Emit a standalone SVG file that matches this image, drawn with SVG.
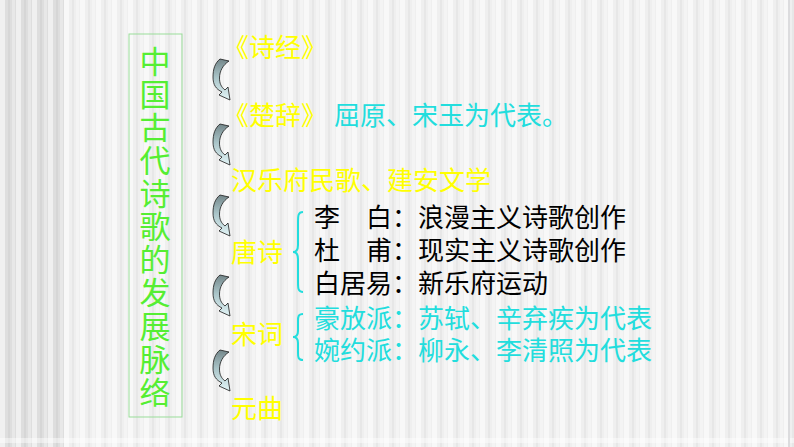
<svg xmlns="http://www.w3.org/2000/svg" width="794" height="447" viewBox="0 0 794 447">
  <defs>
    <pattern id="stripes" x="0" y="0" width="16" height="447" patternUnits="userSpaceOnUse">
      <rect x="0" y="0" width="5" height="447" fill="#ffffff" opacity="0.55"/>
      <rect x="8" y="0" width="2" height="447" fill="#000000" opacity="0.035"/>
      <rect x="12" y="0" width="3" height="447" fill="#ffffff" opacity="0.3"/>
    </pattern>
    <linearGradient id="arrowFill" x1="0" y1="0" x2="0" y2="1">
      <stop offset="0" stop-color="#74878a"/>
      <stop offset="0.45" stop-color="#a9c4c8"/>
      <stop offset="1" stop-color="#e2f4f6"/>
    </linearGradient>
    <path id="curvedArrow" d="M7,0 C2,4 0,10 0,18 C0,26 3,30 9,33 L6,36 L17,41 L15,28 L12,31 C8,28 6.5,24 6.5,19 C6.5,12 10,6 16,2 Z"/>
    <style>
      .cjk { font-family: "Noto Sans CJK SC", "Noto Sans", sans-serif; }
      .cjkh { font-family: "Liberation Sans", "Noto Sans CJK SC", sans-serif; }
      .title { font-size: 31px; fill: #55ee33; writing-mode: vertical-rl; letter-spacing: 2.1px; }
      .stage { font-size: 26px; fill: #ffff00; }
      .cyan { font-size: 26px; fill: #22dddd; }
      .black { font-size: 26px; fill: #000000; }
      .brace { fill: none; stroke: #22dddd; stroke-width: 2; }
      .arrow { fill: url(#arrowFill); stroke: #1a1a1a; stroke-width: 0.8; stroke-linejoin: round; }
    </style>
  </defs>

  <!-- background -->
  <rect x="0" y="0" width="794" height="447" fill="#efefef"/>
  <rect x="0" y="0" width="64" height="447" fill="#dedede"/>
  <rect x="0" y="0" width="794" height="447" fill="url(#stripes)"/>
  <rect x="0" y="438" width="794" height="5" fill="#ffffff" opacity="0.45"/>
  <rect x="788" y="0" width="2" height="447" fill="#dcdcde"/>

  <!-- title box -->
  <g id="title">
    <rect x="129" y="34" width="53" height="383" fill="none" stroke="#99dd99" stroke-width="1"/>
    <text class="cjk title" x="155" y="45.5">中国古代诗歌的发展脉络</text>
  </g>

  <g id="shijing">
    <text class="cjkh stage" x="223" y="57">《诗经》</text>
  </g>

  <g id="chuci">
    <text class="cjkh stage" x="223" y="125">《楚辞》</text>
    <text class="cjkh cyan" x="334" y="125">屈原、宋玉为代表。</text>
  </g>

  <g id="hanyuefu">
    <text class="cjkh stage" x="231" y="190">汉乐府民歌、建安文学</text>
  </g>

  <g id="tangshi">
    <text class="cjkh stage" x="231" y="262">唐诗</text>
    <path class="brace" d="M303,212 C298,212 298,216 298,222 L298,245 C298,250 296,252 293,252 C296,252 298,254 298,259 L298,282 C298,288 298,292 303,292"/>
    <text class="cjkh black" x="314" y="227">李　白：浪漫主义诗歌创作</text>
    <text class="cjkh black" x="314" y="260">杜　甫：现实主义诗歌创作</text>
    <text class="cjkh black" x="314" y="293">白居易：新乐府运动</text>
  </g>

  <g id="songci">
    <text class="cjkh stage" x="231" y="344">宋词</text>
    <path class="brace" d="M303,314 C298,314 298,317 298,321 L298,331 C298,335 296,337 293,337 C296,337 298,339 298,343 L298,353 C298,357 298,360 303,360"/>
    <text class="cjkh cyan" x="314" y="328">豪放派：苏轼、辛弃疾为代表</text>
    <text class="cjkh cyan" x="314" y="360">婉约派：柳永、李清照为代表</text>
  </g>

  <g id="yuanqu">
    <text class="cjkh stage" x="231" y="418">元曲</text>
  </g>

  <!-- connectors -->
  <g id="connectors">
    <use href="#curvedArrow" class="arrow" transform="translate(213,59)"/>
    <use href="#curvedArrow" class="arrow" transform="translate(213,124)"/>
    <use href="#curvedArrow" class="arrow" transform="translate(213,195)"/>
    <use href="#curvedArrow" class="arrow" transform="translate(213,275)"/>
    <use href="#curvedArrow" class="arrow" transform="translate(213,350)"/>
  </g>
</svg>
